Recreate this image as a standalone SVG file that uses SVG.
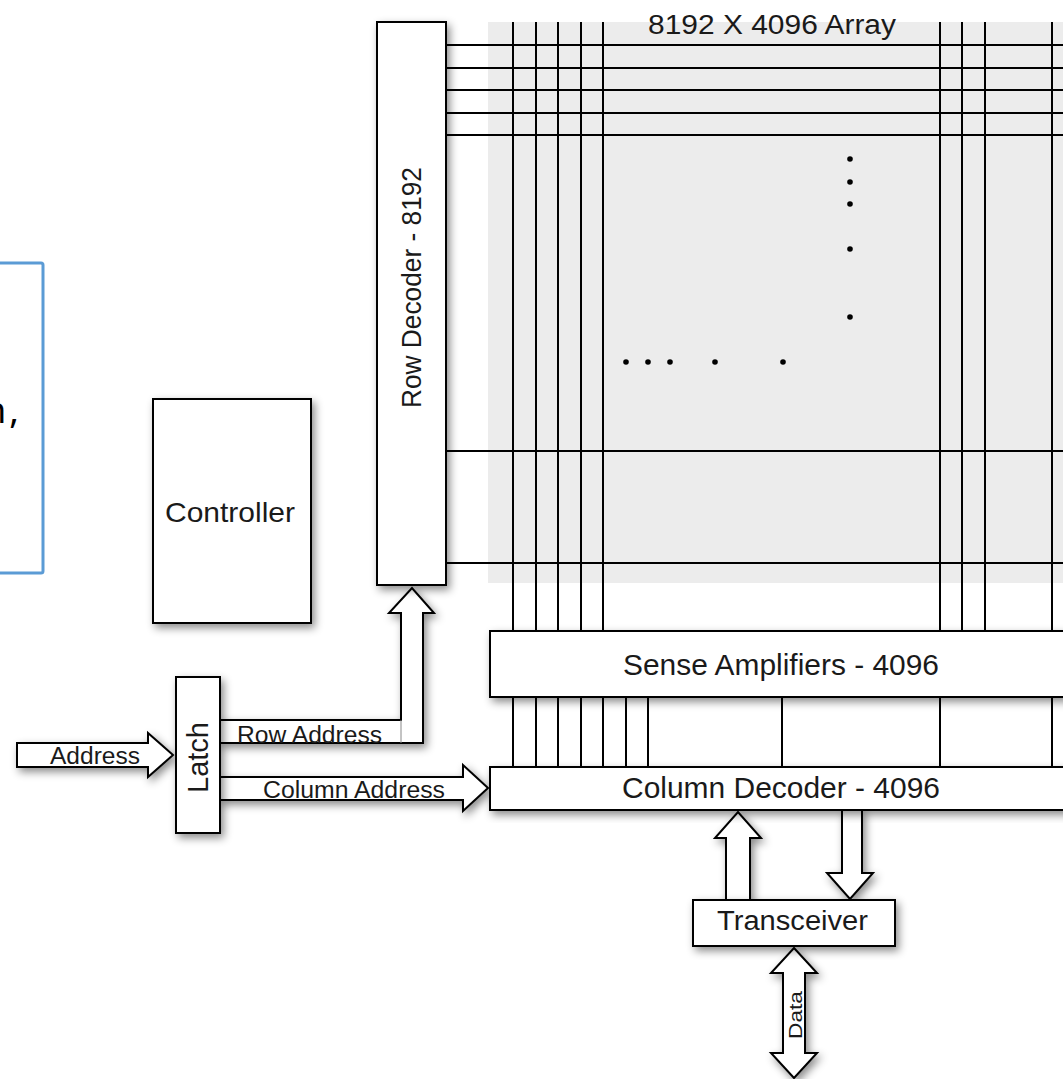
<svg xmlns="http://www.w3.org/2000/svg" width="1063" height="1079" viewBox="0 0 1063 1079">
  <style>
    .box { fill: #ffffff; stroke: #000000; stroke-width: 2; }
    .wire { stroke: #000000; stroke-width: 2; fill: none; }
    .arrow { fill: #ffffff; stroke: #000000; stroke-width: 2; stroke-linejoin: miter; }
    .lbl { font-family: "Liberation Sans", Arial, sans-serif; fill: #1a1a1a; }
    .note { font-family: "Noto Sans", "Open Sans", sans-serif; fill: #000000; }
  </style>
  <defs>
    <filter id="shadow" x="-30%" y="-30%" width="160%" height="160%">
      <feDropShadow dx="3" dy="4" stdDeviation="4" flood-color="#000000" flood-opacity="0.45"/>
    </filter>
  </defs>
  <rect x="0" y="0" width="1063" height="1079" fill="#ffffff"/>

  <!-- note box (cut off at left edge) -->
  <g id="note-box">
    <rect x="-10" y="263" width="53" height="310" rx="2" fill="none" stroke="#5b9bd5" stroke-width="3"/>
    <text class="note" x="-16" y="423" font-size="36">n<tspan dx="3">,</tspan></text>
  </g>

  <!-- memory array -->
  <g id="array">
    <rect x="488" y="22" width="580" height="561" fill="#ececec"/>
    <g class="wire">
      <line x1="446" y1="45" x2="1063" y2="45"/>
      <line x1="446" y1="68" x2="1063" y2="68"/>
      <line x1="446" y1="90" x2="1063" y2="90"/>
      <line x1="446" y1="113" x2="1063" y2="113"/>
      <line x1="446" y1="135" x2="1063" y2="135"/>
      <line x1="446" y1="451" x2="1063" y2="451"/>
      <line x1="446" y1="563" x2="1063" y2="563"/>
      <line x1="513" y1="22" x2="513" y2="631"/>
      <line x1="536" y1="22" x2="536" y2="631"/>
      <line x1="558" y1="22" x2="558" y2="631"/>
      <line x1="581" y1="22" x2="581" y2="631"/>
      <line x1="603" y1="22" x2="603" y2="631"/>
      <line x1="940" y1="22" x2="940" y2="631"/>
      <line x1="962" y1="22" x2="962" y2="631"/>
      <line x1="985" y1="22" x2="985" y2="631"/>
      <line x1="1052" y1="22" x2="1052" y2="631"/>
    </g>
    <g fill="#000000">
      <circle cx="850" cy="159" r="2.8"/>
      <circle cx="850" cy="182" r="2.8"/>
      <circle cx="850" cy="204" r="2.8"/>
      <circle cx="850" cy="249" r="2.8"/>
      <circle cx="850" cy="317" r="2.8"/>
      <circle cx="626" cy="362" r="2.8"/>
      <circle cx="648" cy="362" r="2.8"/>
      <circle cx="670" cy="362" r="2.8"/>
      <circle cx="715" cy="362" r="2.8"/>
      <circle cx="783" cy="362" r="2.8"/>
    </g>
    <text class="lbl" x="648" y="34" font-size="27" textLength="248" lengthAdjust="spacingAndGlyphs">8192 X 4096 Array</text>
  </g>

  <!-- connectors -->
  <g id="connectors">
    <g class="wire">
      <line x1="513" y1="697" x2="513" y2="767"/>
      <line x1="536" y1="697" x2="536" y2="767"/>
      <line x1="558" y1="697" x2="558" y2="767"/>
      <line x1="581" y1="697" x2="581" y2="767"/>
      <line x1="603" y1="697" x2="603" y2="767"/>
      <line x1="626" y1="697" x2="626" y2="767"/>
      <line x1="648" y1="697" x2="648" y2="767"/>
      <line x1="782" y1="697" x2="782" y2="767"/>
      <line x1="940" y1="697" x2="940" y2="767"/>
      <line x1="1052" y1="697" x2="1052" y2="767"/>
    </g>
    <g id="address-arrow">
      <polygon class="arrow" filter="url(#shadow)" points="17,743 148,743 148,733 173,755 148,777 148,767 17,767"/>
      <text class="lbl" x="50" y="764" font-size="23" textLength="90" lengthAdjust="spacingAndGlyphs">Address</text>
    </g>
    <g id="row-address-arrow">
      <polygon class="arrow" filter="url(#shadow)" points="220,720 401,720 401,613 389,613 412,588 434,613 423,613 423,743 220,743"/>
      <line x1="401" y1="720" x2="401" y2="743" stroke="#888888" stroke-width="1"/>
      <text class="lbl" x="237" y="743" font-size="23" textLength="145" lengthAdjust="spacingAndGlyphs">Row Address</text>
    </g>
    <g id="column-address-arrow">
      <polygon class="arrow" filter="url(#shadow)" points="220,777 463,777 463,765 488,788 463,811 463,800 220,800"/>
      <text class="lbl" x="263" y="798" font-size="23" textLength="182" lengthAdjust="spacingAndGlyphs">Column Address</text>
    </g>
    <polygon id="to-decoder-arrow" class="arrow" filter="url(#shadow)" points="726,900 726,838 715,838 738,812 761,838 750,838 750,900"/>
    <polygon id="from-decoder-arrow" class="arrow" filter="url(#shadow)" points="842,810 842,873 827,873 850,899 873,873 862,873 862,810"/>
    <g id="data-arrow">
      <polygon class="arrow" filter="url(#shadow)" points="794,948 817,973 805,973 805,1053 817,1053 794,1078 771,1053 783,1053 783,973 771,973"/>
      <text class="lbl" transform="translate(802,1039) rotate(-90)" font-size="18" textLength="48" lengthAdjust="spacingAndGlyphs">Data</text>
    </g>
  </g>

  <!-- nodes -->
  <g id="row-decoder">
    <rect class="box" filter="url(#shadow)" x="377" y="22" width="69" height="563"/>
    <text class="lbl" transform="translate(421,408) rotate(-90)" font-size="28" textLength="241" lengthAdjust="spacingAndGlyphs">Row Decoder - 8192</text>
  </g>
  <g id="controller">
    <rect class="box" filter="url(#shadow)" x="153" y="399" width="158" height="224"/>
    <text class="lbl" x="165" y="522" font-size="28" textLength="130" lengthAdjust="spacingAndGlyphs">Controller</text>
  </g>
  <g id="latch">
    <rect class="box" filter="url(#shadow)" x="176" y="677" width="44" height="156"/>
    <text class="lbl" transform="translate(208,793) rotate(-90)" font-size="29" textLength="71" lengthAdjust="spacingAndGlyphs">Latch</text>
  </g>
  <g id="sense-amplifiers">
    <rect class="box" filter="url(#shadow)" x="490" y="631" width="590" height="66"/>
    <text class="lbl" x="623" y="675" font-size="29" textLength="316" lengthAdjust="spacingAndGlyphs">Sense Amplifiers - 4096</text>
  </g>
  <g id="column-decoder">
    <rect class="box" filter="url(#shadow)" x="490" y="767" width="590" height="43"/>
    <text class="lbl" x="622" y="798" font-size="29" textLength="318" lengthAdjust="spacingAndGlyphs">Column Decoder - 4096</text>
  </g>
  <g id="transceiver">
    <rect class="box" filter="url(#shadow)" x="693" y="900" width="202" height="46"/>
    <text class="lbl" x="717" y="930" font-size="27" textLength="151" lengthAdjust="spacingAndGlyphs">Transceiver</text>
  </g>
</svg>
